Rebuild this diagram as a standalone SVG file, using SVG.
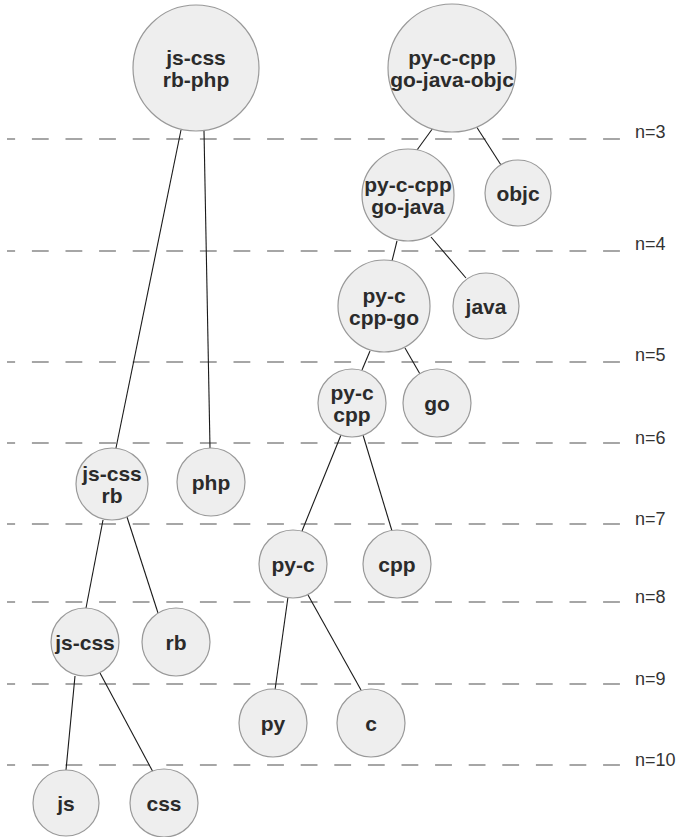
<svg xmlns="http://www.w3.org/2000/svg" width="681" height="837" viewBox="0 0 681 837">
<style>
.lvl{stroke:#a6a6a6;stroke-width:1.8;stroke-dasharray:16.8 16.8;stroke-dashoffset:8.7;fill:none}
.lbl{font-family:"Liberation Sans",Arial,sans-serif;font-size:18px;fill:#333}
.edge{stroke:#1a1a1a;stroke-width:1.1;fill:none}
.node circle{fill:#eeeeee;stroke:#999;stroke-width:1.2}
.node text{font-family:"Liberation Sans",Arial,sans-serif;font-size:21px;font-weight:bold;fill:#2b2b2b;text-anchor:middle}
</style>
<rect width="681" height="837" fill="#fff"/>
<g id="levels">
<line class="lvl" x1="7" y1="139" x2="620" y2="139"/>
<line class="lvl" x1="7" y1="251" x2="620" y2="251"/>
<line class="lvl" x1="7" y1="362" x2="620" y2="362"/>
<line class="lvl" x1="7" y1="443" x2="620" y2="443"/>
<line class="lvl" x1="7" y1="524" x2="620" y2="524"/>
<line class="lvl" x1="7" y1="602" x2="620" y2="602"/>
<line class="lvl" x1="7" y1="684" x2="620" y2="684"/>
<line class="lvl" x1="7" y1="765" x2="620" y2="765"/>
<text class="lbl" x="635" y="138">n=3</text>
<text class="lbl" x="635" y="250">n=4</text>
<text class="lbl" x="635" y="361">n=5</text>
<text class="lbl" x="635" y="444">n=6</text>
<text class="lbl" x="635" y="525">n=7</text>
<text class="lbl" x="635" y="603">n=8</text>
<text class="lbl" x="635" y="685">n=9</text>
<text class="lbl" x="635" y="766">n=10</text>
</g>
<g id="connectors">
<line class="edge" x1="181" y1="130" x2="116" y2="448"/>
<line class="edge" x1="204" y1="131" x2="210" y2="448"/>
<line class="edge" x1="433" y1="128" x2="417" y2="150"/>
<line class="edge" x1="476" y1="126" x2="501" y2="165"/>
<line class="edge" x1="397" y1="241" x2="392" y2="261"/>
<line class="edge" x1="431" y1="237" x2="466" y2="278"/>
<line class="edge" x1="370" y1="351" x2="362" y2="370"/>
<line class="edge" x1="405" y1="348" x2="420" y2="374"/>
<line class="edge" x1="341" y1="435" x2="302" y2="531"/>
<line class="edge" x1="363" y1="435" x2="392" y2="531"/>
<line class="edge" x1="103" y1="520" x2="86" y2="608"/>
<line class="edge" x1="127" y1="517" x2="158" y2="613"/>
<line class="edge" x1="75" y1="676" x2="66" y2="770"/>
<line class="edge" x1="100" y1="673" x2="153" y2="772"/>
<line class="edge" x1="288" y1="597" x2="275" y2="690"/>
<line class="edge" x1="308" y1="595" x2="361" y2="690"/>
</g>
<g id="n-jscss-rbphp" class="node"><circle cx="196" cy="68" r="63"/><text x="196" y="65">js-css</text><text x="196" y="87">rb-php</text></g>
<g id="n-pyccpp-gojavaobjc" class="node"><circle cx="452" cy="68" r="64"/><text x="452" y="65">py-c-cpp</text><text x="452" y="87">go-java-objc</text></g>
<g id="n-pyccpp-gojava" class="node"><circle cx="408" cy="195" r="46"/><text x="408" y="192">py-c-cpp</text><text x="408" y="214">go-java</text></g>
<g id="n-objc" class="node"><circle cx="518" cy="193" r="33"/><text x="518" y="200.5">objc</text></g>
<g id="n-pyc-cppgo" class="node"><circle cx="384" cy="306" r="46"/><text x="384" y="303">py-c</text><text x="384" y="325">cpp-go</text></g>
<g id="n-java" class="node"><circle cx="486" cy="306" r="33"/><text x="486" y="313.5">java</text></g>
<g id="n-pyc-cpp" class="node"><circle cx="352" cy="403" r="34"/><text x="352" y="400">py-c</text><text x="352" y="422">cpp</text></g>
<g id="n-go" class="node"><circle cx="437" cy="403" r="34"/><text x="437" y="410.5">go</text></g>
<g id="n-jscss-rb" class="node"><circle cx="112" cy="484" r="36"/><text x="112" y="481">js-css</text><text x="112" y="503">rb</text></g>
<g id="n-php" class="node"><circle cx="211" cy="482" r="34"/><text x="211" y="489.5">php</text></g>
<g id="n-pyc" class="node"><circle cx="293" cy="564" r="34"/><text x="293" y="571.5">py-c</text></g>
<g id="n-cpp" class="node"><circle cx="397" cy="564" r="34"/><text x="397" y="571.5">cpp</text></g>
<g id="n-jscss" class="node"><circle cx="85" cy="642" r="34"/><text x="85" y="649.5">js-css</text></g>
<g id="n-rb" class="node"><circle cx="176" cy="642" r="34"/><text x="176" y="649.5">rb</text></g>
<g id="n-js" class="node"><circle cx="66" cy="803" r="33"/><text x="66" y="810.5">js</text></g>
<g id="n-css" class="node"><circle cx="164" cy="803" r="34"/><text x="164" y="810.5">css</text></g>
<g id="n-py" class="node"><circle cx="273" cy="723" r="34"/><text x="273" y="730.5">py</text></g>
<g id="n-c" class="node"><circle cx="371" cy="723" r="34"/><text x="371" y="730.5">c</text></g>
</svg>
